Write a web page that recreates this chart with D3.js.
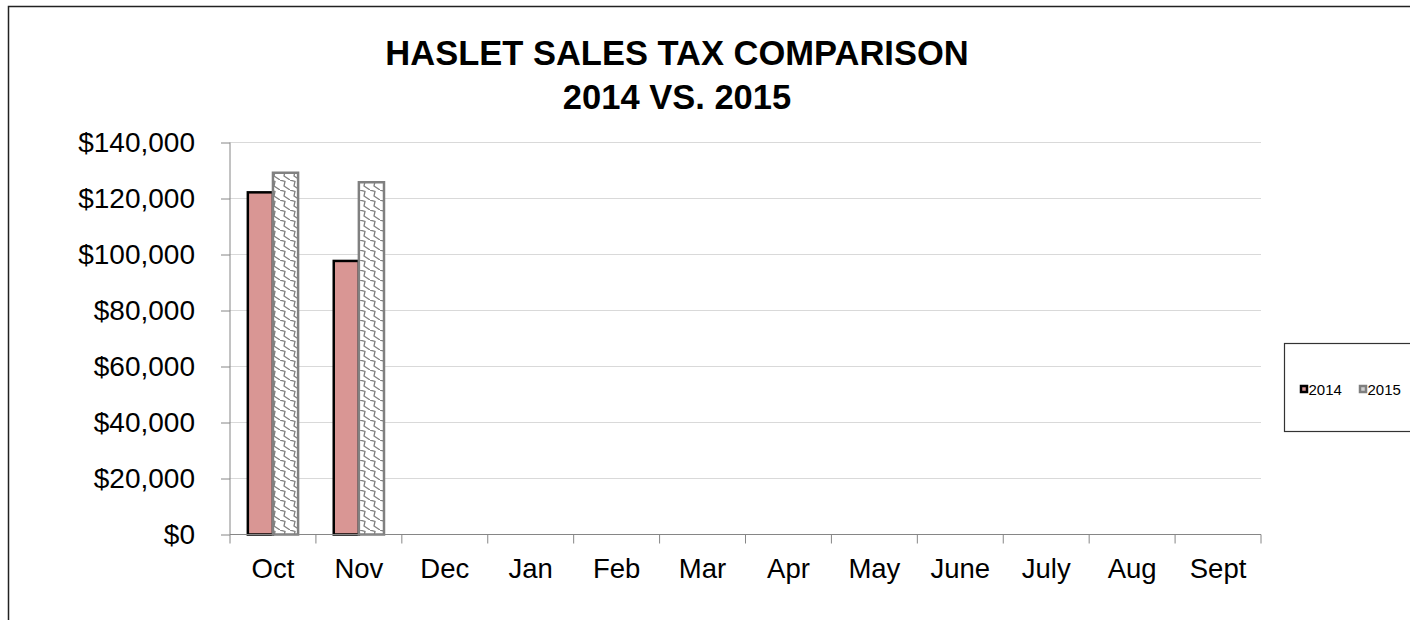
<!DOCTYPE html>
<html>
<head>
<meta charset="utf-8">
<script src="https://cdn.jsdelivr.net/npm/d3@7/dist/d3.min.js"></script>
<style>
  body { margin: 0; background: #fff; }
  svg { display: block; font-family: "Liberation Sans", Arial, sans-serif; }
</style>
</head>
<body>
<div class="chart"></div>
<script>
var months = ["Oct", "Nov", "Dec", "Jan", "Feb", "Mar", "Apr", "May", "June", "July", "Aug", "Sept"];
var seriesNames = ["2014", "2015"];
var sales2014 = [122200, 97700];
var sales2015 = [129200, 125800];
var yTickValues = [0, 20000, 40000, 60000, 80000, 100000, 120000, 140000];
var titleLines = ["HASLET SALES TAX COMPARISON", "2014 VS. 2015"];

var svgWidth = 1410;
var svgHeight = 620;
var plot = { left: 230, right: 1261, top: 142.5, bottom: 534.5 };

var svg = d3.select(".chart")
  .append("svg")
  .attr("width", svgWidth)
  .attr("height", svgHeight);

// hatch for the 2015 bars
var defs = svg.append("defs");
var pat = defs.append("pattern")
  .attr("id", "wave")
  .attr("patternUnits", "userSpaceOnUse")
  .attr("width", 10)
  .attr("height", 10);
pat.append("rect").attr("width", 10).attr("height", 10).attr("fill", "#fff");
pat.append("path")
  .attr("d", "M0,0 L5,1.5 L4,6 L10,10")
  .attr("fill", "none")
  .attr("stroke", "#7f7f7f")
  .attr("stroke-width", 1.3);

// outer frame
svg.append("rect")
  .attr("x", 8.5).attr("y", 6.5)
  .attr("width", 1500).attr("height", 700)
  .attr("fill", "none")
  .attr("stroke", "#222")
  .attr("stroke-width", 1.5);

// title
svg.append("text")
  .attr("x", 677)
  .attr("text-anchor", "middle")
  .style("font-weight", "bold")
  .style("font-size", "34.5px")
  .selectAll("tspan")
  .data(titleLines)
  .enter()
  .append("tspan")
  .attr("x", 677)
  .attr("y", (d, i) => 64.5 + i * 44)
  .text(d => d);

// scales
var xScale = d3.scaleBand()
  .domain(months)
  .range([plot.left, plot.right])
  .paddingInner(0)
  .paddingOuter(0);

var xSeries = d3.scaleBand()
  .domain(seriesNames)
  .range([0, xScale.bandwidth()])
  .paddingInner(0)
  .paddingOuter(0.71);

var yScale = d3.scaleLinear()
  .domain([0, 140000])
  .range([plot.bottom, plot.top]);

// gridlines
svg.append("g")
  .selectAll("line")
  .data(yTickValues.slice(1))
  .enter()
  .append("line")
  .attr("x1", plot.left).attr("x2", plot.right)
  .attr("y1", d => yScale(d)).attr("y2", d => yScale(d))
  .attr("stroke", "#d9d9d9")
  .attr("stroke-width", 1);

// y axis
var leftAxis = d3.axisLeft(yScale)
  .tickValues(yTickValues)
  .tickSize(9)
  .tickPadding(26)
  .tickFormat(d => "$" + d3.format(",")(d));

var yAxisG = svg.append("g")
  .attr("class", "yAxis")
  .attr("transform", `translate(${plot.left},0)`)
  .call(leftAxis);
yAxisG.select(".domain").remove();
yAxisG.selectAll("line").attr("stroke", "#868686");
yAxisG.selectAll("text")
  .attr("fill", "#000")
  .style("font-size", "28px")
  .style("font-family", "Liberation Sans, Arial, sans-serif");

// bars
var bars2014 = svg.append("g");
bars2014.selectAll("rect")
  .data(sales2014)
  .enter()
  .append("rect")
  .attr("x", (d, i) => xScale(months[i]) + xSeries("2014"))
  .attr("y", d => yScale(d))
  .attr("width", xSeries.bandwidth())
  .attr("height", d => yScale(0) - yScale(d))
  .attr("fill", "#d99694")
  .attr("stroke", "#000")
  .attr("stroke-width", 2.5);

var bars2015 = svg.append("g");
bars2015.selectAll("rect")
  .data(sales2015)
  .enter()
  .append("rect")
  .attr("x", (d, i) => xScale(months[i]) + xSeries("2015"))
  .attr("y", d => yScale(d))
  .attr("width", xSeries.bandwidth())
  .attr("height", d => yScale(0) - yScale(d))
  .attr("fill", "url(#wave)")
  .attr("stroke", "#808080")
  .attr("stroke-width", 2.5);

// axis lines
svg.append("line")
  .attr("x1", plot.left).attr("x2", plot.left)
  .attr("y1", plot.top).attr("y2", plot.bottom)
  .attr("stroke", "#868686");

// x axis labels
var bottomAxis = d3.axisBottom(xScale)
  .tickSize(0)
  .tickPadding(24);

var xAxisG = svg.append("g")
  .attr("class", "xAxis")
  .attr("transform", `translate(0,${plot.bottom})`)
  .call(bottomAxis);
xAxisG.select(".domain")
  .attr("d", `M${plot.left},0H${plot.right}`)
  .attr("stroke", "#868686");
xAxisG.selectAll("text")
  .attr("fill", "#000")
  .style("font-size", "27.5px")
  .style("font-family", "Liberation Sans, Arial, sans-serif");

// category boundary ticks
xAxisG.append("g")
  .selectAll("line")
  .data(months.concat(["end"]))
  .enter()
  .append("line")
  .attr("x1", d => d === "end" ? plot.right : xScale(d))
  .attr("x2", d => d === "end" ? plot.right : xScale(d))
  .attr("y1", 0).attr("y2", 9)
  .attr("stroke", "#868686");

// legend
var legend = svg.append("g");
legend.append("rect")
  .attr("x", 1284.5).attr("y", 343.5)
  .attr("width", 200).attr("height", 88)
  .attr("fill", "#fff")
  .attr("stroke", "#333")
  .attr("stroke-width", 1.2);

var legendX = [1301, 1360];
var legendItems = legend.selectAll(".item")
  .data(seriesNames)
  .enter()
  .append("g")
  .attr("class", "item")
  .attr("transform", (d, i) => `translate(${legendX[i]},386)`);

legendItems.append("rect")
  .attr("width", 6).attr("height", 6)
  .attr("fill", (d, i) => i === 0 ? "#d99694" : "#d0d0d0")
  .attr("stroke", (d, i) => i === 0 ? "#000" : "#7f7f7f")
  .attr("stroke-width", 2.5);

legendItems.append("text")
  .attr("x", 7.5)
  .attr("y", 9)
  .style("font-size", "15px")
  .text(d => d);
</script>
</body>
</html>
